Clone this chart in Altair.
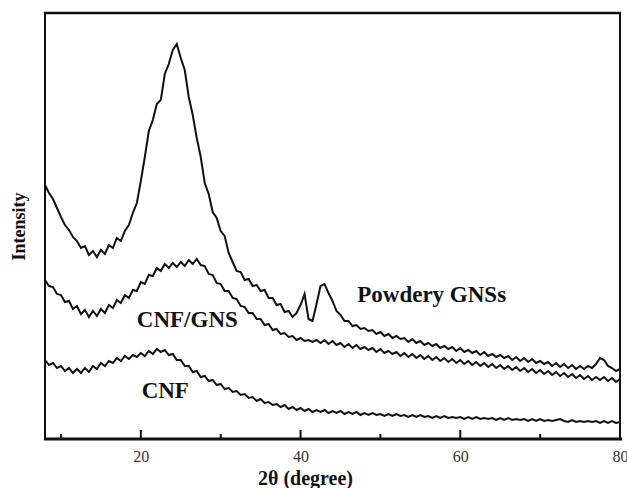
import altair as alt
import numpy as np
import pandas as pd

# 2-theta sampling grid (degrees)
two_theta = np.round(np.arange(8.0, 80.01, 0.5), 2).tolist()

# Intensities (arbitrary units)
gns = [
    254, 246, 240, 231, 222, 214, 209, 202, 198, 191,
    193, 184, 188, 182, 189, 185, 194, 191, 201, 198,
    208, 214, 226, 236, 258, 282, 308, 319, 335, 339,
    365, 375, 389, 395, 381, 369, 342, 324, 301, 282,
    256, 245, 227, 221, 208, 203, 186, 177, 168, 167,
    159, 160, 153, 154, 148, 149, 141, 141, 134, 135,
    127, 128, 122, 126, 134, 145, 120, 118, 135, 153,
    155, 146, 138, 128, 124, 118, 118, 113, 114, 110,
    111, 108, 109, 105, 107, 103, 105, 101, 103, 100,
    101, 97, 100, 96, 98, 94, 96, 93, 95, 91,
    93, 90, 92, 88, 91, 87, 89, 86, 88, 84,
    87, 83, 85, 82, 84, 81, 83, 79, 82, 78,
    81, 77, 80, 76, 78, 75, 77, 73, 76, 72,
    75, 71, 74, 70, 73, 70, 73, 71, 75, 81,
    79, 73, 71, 68, 70,
]

cnf_gns = [
    159, 153, 152, 145, 144, 137, 138, 130, 133, 125,
    129, 122, 128, 123, 130, 126, 134, 131, 139, 136,
    144, 141, 149, 148, 157, 155, 164, 163, 171, 168,
    175, 171, 176, 172, 177, 173, 179, 175, 180, 174,
    173, 165, 164, 156, 155, 148, 148, 141, 140, 133,
    132, 126, 126, 120, 120, 114, 115, 109, 110, 105,
    106, 102, 103, 99, 101, 98, 99, 97, 99, 96,
    99, 95, 98, 94, 96, 92, 95, 91, 94, 90,
    92, 89, 91, 87, 90, 86, 88, 85, 87, 83,
    86, 82, 85, 81, 84, 80, 83, 79, 82, 78,
    81, 77, 80, 76, 79, 75, 78, 74, 77, 73,
    76, 72, 75, 71, 74, 70, 73, 69, 72, 68,
    71, 67, 70, 66, 69, 65, 68, 64, 67, 63,
    66, 62, 65, 61, 64, 60, 63, 59, 62, 59,
    62, 58, 61, 57, 60,
]

cnf = [
    79, 74, 76, 71, 73, 68, 71, 66, 70, 66,
    71, 67, 73, 70, 76, 73, 78, 76, 81, 78,
    83, 80, 84, 82, 86, 83, 88, 85, 90, 87,
    89, 84, 85, 79, 79, 73, 73, 67, 68, 62,
    63, 58, 59, 54, 55, 50, 51, 47, 48, 44,
    45, 41, 42, 38, 40, 36, 37, 34, 35, 32,
    34, 30, 32, 29, 31, 28, 30, 27, 29, 27,
    29, 26, 28, 26, 28, 25, 27, 25, 27, 24,
    26, 24, 26, 24, 25, 23, 25, 23, 25, 23,
    24, 22, 24, 22, 24, 22, 23, 21, 23, 21,
    23, 21, 22, 21, 22, 20, 22, 20, 22, 20,
    21, 20, 21, 19, 21, 19, 21, 19, 20, 19,
    20, 18, 20, 18, 20, 18, 19, 18, 19, 20,
    18, 17, 19, 17, 18, 17, 18, 17, 18, 16,
    18, 16, 18, 16, 17,
]

series_names = ["Powdery GNSs", "CNF/GNS", "CNF"]

# annotation labels (data coordinates)
label_text = ["Powdery GNSs", "CNF/GNS", "CNF"]
label_x = [47.1, 19.5, 20.1]
label_y = [144, 119, 48]

major_ticks = [20, 40, 60, 80]
minor_ticks = [10, 30, 50, 70]

rows = []
for name, vals in zip(series_names, [gns, cnf_gns, cnf]):
    for t, v in zip(two_theta, vals):
        rows.append({"series": name, "two_theta": t, "intensity": v})
df = pd.DataFrame(rows)

labels_df = pd.DataFrame({"text": label_text, "two_theta": label_x, "intensity": label_y})
major_df = pd.DataFrame({"two_theta": major_ticks})
minor_df = pd.DataFrame({"two_theta": minor_ticks})
dummy = pd.DataFrame({"a": [0]})

W, H = 575, 426
SERIF = "Liberation Serif"

x_scale = alt.Scale(domain=[8, 80], nice=False, zero=False)
y_scale = alt.Scale(domain=[0, 426], nice=False, zero=False)

x_axis = alt.Axis(
    values=major_ticks,
    domain=False,
    ticks=False,
    tickSize=0,
    grid=False,
    labelFont=SERIF,
    labelFontSize=16,
    labelColor="#333333",
    labelPadding=9,
    labelFlush=False,
    title="2θ (degree)",
    titleFont=SERIF,
    titleFontSize=20,
    titleFontWeight="bold",
    titleColor="#111111",
    titleX=260,
    titleY=39,
    titleAlign="center",
    titleBaseline="middle",
)
y_axis = alt.Axis(
    domain=False,
    ticks=False,
    tickSize=0,
    labels=False,
    grid=False,
    title="Intensity",
    titleFont=SERIF,
    titleFontSize=18,
    titleFontWeight="bold",
    titleColor="#111111",
    titleX=-26,
    titleY=213,
    titleAngle=270,
    titleAlign="center",
    titleBaseline="middle",
)

lines = alt.Chart(df).mark_line(color="#111111", strokeWidth=2).encode(
    x=alt.X("two_theta:Q", scale=x_scale, axis=x_axis),
    y=alt.Y("intensity:Q", scale=y_scale, axis=y_axis),
    detail="series:N",
)

texts = alt.Chart(labels_df).mark_text(
    font=SERIF, fontSize=23, fontWeight="bold", align="left", baseline="middle", color="#111111"
).encode(
    x=alt.X("two_theta:Q", scale=x_scale, axis=x_axis),
    y=alt.Y("intensity:Q", scale=y_scale, axis=y_axis),
    text="text:N",
)

major = alt.Chart(major_df).mark_rule(color="#111111", strokeWidth=2).encode(
    x=alt.X("two_theta:Q", scale=x_scale, axis=x_axis),
    y=alt.value(H),
    y2=alt.value(H - 9),
)
minor = alt.Chart(minor_df).mark_rule(color="#111111", strokeWidth=2).encode(
    x=alt.X("two_theta:Q", scale=x_scale, axis=x_axis),
    y=alt.value(H),
    y2=alt.value(H - 5),
)

top_rule = alt.Chart(dummy).mark_rule(color="#111111", strokeWidth=2.5).encode(
    x=alt.value(-1), x2=alt.value(W + 1), y=alt.value(0)
)
bottom_rule = alt.Chart(dummy).mark_rule(color="#111111", strokeWidth=3).encode(
    x=alt.value(-1), x2=alt.value(W + 2), y=alt.value(H)
)
left_rule = alt.Chart(dummy).mark_rule(color="#111111", strokeWidth=2).encode(
    x=alt.value(0), y=alt.value(0), y2=alt.value(H)
)
right_rule = alt.Chart(dummy).mark_rule(color="#111111", strokeWidth=2).encode(
    x=alt.value(W), y=alt.value(0), y2=alt.value(H)
)

chart = (
    alt.layer(lines, texts, major, minor, top_rule, bottom_rule, left_rule, right_rule)
    .properties(
        width=W,
        height=H,
        background="white",
        autosize=alt.AutoSizeParams(type="none"),
        padding={"left": 45, "top": 13, "right": 7, "bottom": 49},
    )
    .configure_view(stroke=None)
)

chart.save("out.html", embed_options={"renderer": "svg", "actions": False})
